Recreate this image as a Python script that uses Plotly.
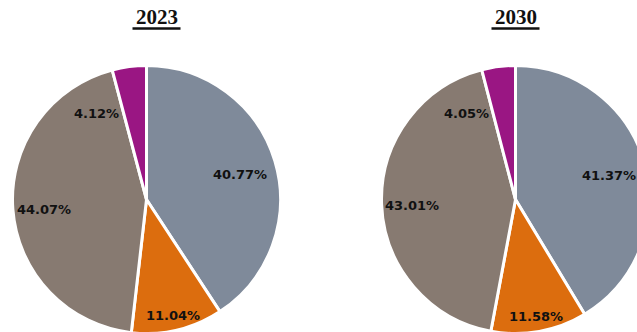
import math
import plotly.graph_objects as go

# Share of each segment, listed clockwise from 12 o'clock
years = ["2023", "2030"]
segments = ["Segment A", "Segment B", "Segment C", "Segment D"]
shares_2023 = [40.77, 11.04, 44.07, 4.12]
shares_2030 = [41.37, 11.58, 43.01, 4.05]
colors = ["#7F8A9A", "#DC6D0E", "#877A71", "#9A1683"]

# Canvas and pie geometry (pixels, measured from the top-left corner)
W, H = 652, 340
R = 134.0
centers = [(146.5, 199.5), (515.5, 199.5)]
title_x = [156.5, 515.5]
# radial position of each value label, as a fraction of the radius
label_r = [0.725, 0.87, 0.77, 0.68]

fig = go.Figure()
annotations = []
shapes = []

for yr, vals, (cx, cy), tx in zip(years, [shares_2023, shares_2030], centers, title_x):
    fig.add_trace(go.Pie(
        labels=segments,
        values=vals,
        sort=False,
        direction="clockwise",
        rotation=0,
        textinfo="none",
        hoverinfo="label+percent",
        marker=dict(colors=colors, line=dict(color="white", width=3)),
        domain=dict(x=[(cx - R) / W, (cx + R) / W], y=[(H - cy - R) / H, (H - cy + R) / H]),
        showlegend=False,
    ))

    total = sum(vals)
    start = 0.0
    for i, v in enumerate(vals):
        frac = v / total
        if i == len(vals) - 1:
            # the thin last slice carries its label just outside its leading edge
            ang = 2 * math.pi * start
            anchor = "right"
            dx = -2
        else:
            ang = 2 * math.pi * (start + frac / 2)
            anchor = "center"
            dx = 0
        rr = label_r[i] * R
        px = cx + rr * math.sin(ang) + dx
        py = cy - rr * math.cos(ang) + 2.5
        annotations.append(dict(
            x=px / W, y=1 - py / H, xref="paper", yref="paper",
            text=f"<b>{v:.2f}%</b>", showarrow=False,
            xanchor=anchor, yanchor="middle",
            font=dict(family="DejaVu Sans", size=13, color="#111111"),
        ))
        start += frac

    # year heading with a heavy underline
    annotations.append(dict(
        x=tx / W, y=1 - 17 / H, xref="paper", yref="paper",
        text=f"<b>{yr}</b>", showarrow=False,
        xanchor="center", yanchor="middle",
        font=dict(family="Liberation Serif", size=21, color="#111111"),
    ))
    shapes.append(dict(
        type="line", xref="paper", yref="paper",
        x0=(tx - 24) / W, x1=(tx + 24) / W,
        y0=1 - 28.5 / H, y1=1 - 28.5 / H,
        line=dict(color="#111111", width=2.5),
    ))

fig.update_layout(
    width=W, height=H,
    margin=dict(l=0, r=0, t=0, b=0),
    paper_bgcolor="white",
    plot_bgcolor="white",
    annotations=annotations,
    shapes=shapes,
)

fig.write_html(
    "out.html",
    config={"displayModeBar": False},
    post_script="document.body.style.margin='0';document.body.style.overflow='hidden';document.documentElement.style.overflow='hidden';",
)
